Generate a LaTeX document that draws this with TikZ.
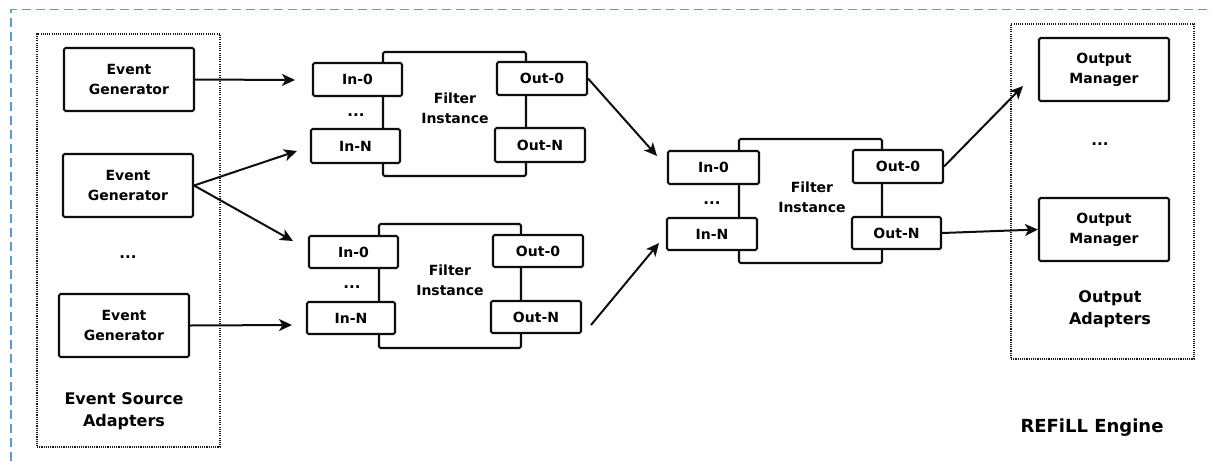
\documentclass[tikz,border=0pt]{standalone}
\usepackage{fontspec}
\setmainfont{DejaVu Sans}
\usetikzlibrary{arrows.meta}
\definecolor{frameblue}{RGB}{91,155,213}
\tikzset{
  box/.style={draw=black!95, line width=2.1pt, rounded corners=1.5pt, fill=white, inner sep=0pt, align=center, font=\fontsize{14}{20}\selectfont\bfseries},
  port/.style={box, font=\fontsize{14}{18}\selectfont\bfseries},
  group/.style={draw=black!90, line width=1.5pt, dash pattern=on 1.1pt off 1.1pt, inner sep=0pt},
  label/.style={align=center, inner sep=0pt, font=\fontsize{16}{22}\selectfont\bfseries},
  dots/.style={inner sep=0pt, font=\fontsize{15}{18}\selectfont\bfseries},
  conn/.style={line width=2pt, draw=black!95, -{Stealth[length=13pt,width=12pt,inset=3.5pt]}},
  ftext/.style={align=center, inner sep=0pt, font=\fontsize{14}{20}\selectfont\bfseries}
}
\begin{document}
\begin{tikzpicture}[x=1pt,y=-1pt]
\useasboundingbox (0,0) rectangle (1210,461);
% blue dashed frame
\draw[frameblue, line width=1.7pt, dash pattern=on 9pt off 5pt] (11,461) -- (11,9.5) -- (1210,9.5);

% Event source adapters
\node[group, minimum width=183, minimum height=413] (esa) at (128.5,240.5) {};
\node[box, minimum width=130, minimum height=63] (eg1) at (129,79.5) {Event\\Generator};
\node[box, minimum width=130, minimum height=63] (eg2) at (128,185.5) {Event\\Generator};
\node[dots] (egdots) at (128,257) {...};
\node[box, minimum width=130, minimum height=63] (eg3) at (124,325.5) {Event\\Generator};
\node[label] (esalabel) at (124,411) {Event Source\\Adapters};

% Filter 1
\node[box, minimum width=143, minimum height=124] (f1) at (454.5,114) {};
\node[ftext] (f1t) at (455,108) {Filter\\Instance};
\node[port, minimum width=89, minimum height=33] (f1i0) at (357.5,79.5) {In-0};
\node[port, minimum width=89, minimum height=34] (f1iN) at (355.5,146) {In-N};
\node[port, minimum width=90, minimum height=33] (f1o0) at (542,78.5) {Out-0};
\node[port, minimum width=90, minimum height=34] (f1oN) at (540,145) {Out-N};
\node[dots] (f1d) at (356,115) {...};

% Filter 2
\node[box, minimum width=142, minimum height=124] (f2) at (450,286) {};
\node[ftext] (f2t) at (450,280) {Filter\\Instance};
\node[port, minimum width=89, minimum height=32] (f2i0) at (353.5,252) {In-0};
\node[port, minimum width=88, minimum height=32] (f2iN) at (351,318) {In-N};
\node[port, minimum width=90, minimum height=32] (f2o0) at (538,251) {Out-0};
\node[port, minimum width=90, minimum height=32] (f2oN) at (536,317) {Out-N};
\node[dots] (f2d) at (352,287) {...};

% Filter 3
\node[box, minimum width=143, minimum height=124] (f3) at (810.5,201) {};
\node[ftext] (f3t) at (812,197) {Filter\\Instance};
\node[port, minimum width=91, minimum height=33] (f3i0) at (713.5,167.5) {In-0};
\node[port, minimum width=90, minimum height=32] (f3iN) at (712,234) {In-N};
\node[port, minimum width=90, minimum height=33] (f3o0) at (898,166.5) {Out-0};
\node[port, minimum width=89, minimum height=32] (f3oN) at (896.5,233) {Out-N};
\node[dots] (f3d) at (712,203) {...};

% Output adapters
\node[group, minimum width=183, minimum height=335] (oa) at (1102.5,191.5) {};
\node[box, minimum width=130, minimum height=63] (om1) at (1104,69.5) {Output\\Manager};
\node[dots] (omdots) at (1100,144) {...};
\node[box, minimum width=130, minimum height=63] (om2) at (1104,229.5) {Output\\Manager};
\node[label] (oalabel) at (1110,309) {Output\\Adapters};

\node[inner sep=0pt, font=\fontsize{18}{22}\selectfont\bfseries] (engine) at (1092,428) {REFiLL Engine};

% arrow end points
\coordinate (t1) at (295,80);
\coordinate (t2) at (297,151);
\coordinate (t3) at (293,241);
\coordinate (t4) at (292,325);
\coordinate (t5) at (657,156);
\coordinate (s6) at (591,325);
\coordinate (t6) at (659,243);
\coordinate (t7) at (1023,86);

\draw[conn] (eg1.east) -- (t1);
\draw[conn] (eg2.east) -- (t2);
\draw[conn] (eg2.east) -- (t3);
\draw[conn] (eg3.east) -- (t4);
\draw[conn] (f1o0.east) -- (t5);
\draw[conn] (s6) -- (t6);
\draw[conn] (f3o0.east) -- (t7);
\draw[conn] (f3oN.east) -- (om2.west);
\end{tikzpicture}
\end{document}
